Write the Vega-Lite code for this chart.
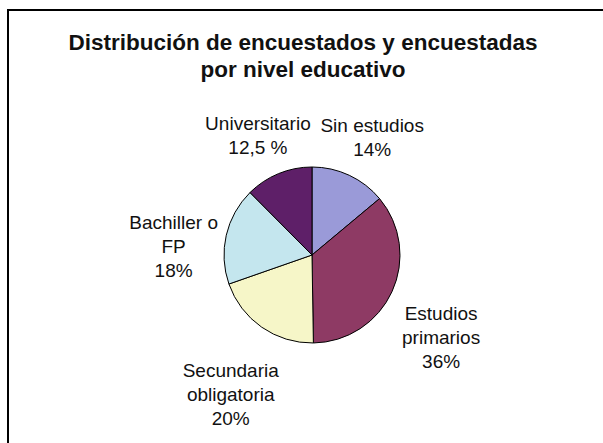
{
  "$schema": "https://vega.github.io/schema/vega-lite/v6.json",
  "width": 608,
  "height": 490,
  "autosize": {"type": "none"},
  "padding": {"left": 8, "top": 10, "right": 0, "bottom": 0},
  "background": "white",
  "view": {"stroke": "black", "strokeWidth": 2, "fill": "white"},
  "config": {
    "view": {"stroke": "black", "strokeWidth": 2},
    "font": "Liberation Sans"
  },
  "title": {
    "text": ["Distribución de encuestados y encuestadas", "por nivel educativo"],
    "font": "Liberation Sans",
    "fontSize": 22.5,
    "fontWeight": "bold",
    "color": "#111111",
    "lineHeight": 27,
    "anchor": "middle",
    "offset": -71,
    "dx": -9
  },
  "data": {
    "values": [
      {"nivel": "Sin estudios", "porcentaje": 14, "etiqueta": "Sin estudios\n14%", "orden": 1},
      {"nivel": "Estudios primarios", "porcentaje": 36, "etiqueta": "Estudios\nprimarios\n36%", "orden": 2},
      {"nivel": "Secundaria obligatoria", "porcentaje": 20, "etiqueta": "Secundaria\nobligatoria\n20%", "orden": 3},
      {"nivel": "Bachiller o FP", "porcentaje": 18, "etiqueta": "Bachiller o\nFP\n18%", "orden": 4},
      {"nivel": "Universitario", "porcentaje": 12.5, "etiqueta": "Universitario\n12,5 %", "orden": 5}
    ]
  },
  "encoding": {
    "theta": {"field": "porcentaje", "type": "quantitative", "stack": true},
    "order": {"field": "orden", "type": "quantitative"},
    "color": {
      "field": "nivel",
      "type": "nominal",
      "scale": {
        "domain": ["Sin estudios", "Estudios primarios", "Secundaria obligatoria", "Bachiller o FP", "Universitario"],
        "range": ["#9a9ad8", "#8e3a64", "#f6f6c8", "#c4e6ee", "#5e1f68"]
      },
      "legend": null
    }
  },
  "layer": [
    {
      "mark": {"type": "arc", "outerRadius": 88, "stroke": "black", "strokeWidth": 1}
    },
    {
      "mark": {"type": "text", "radius": 142, "fontSize": 19, "lineBreak": "\n", "lineHeight": 24, "font": "Liberation Sans"},
      "encoding": {
        "text": {"field": "etiqueta", "type": "nominal"},
        "color": {"value": "#111111"},
        "detail": {"field": "nivel", "type": "nominal"}
      }
    }
  ]
}
